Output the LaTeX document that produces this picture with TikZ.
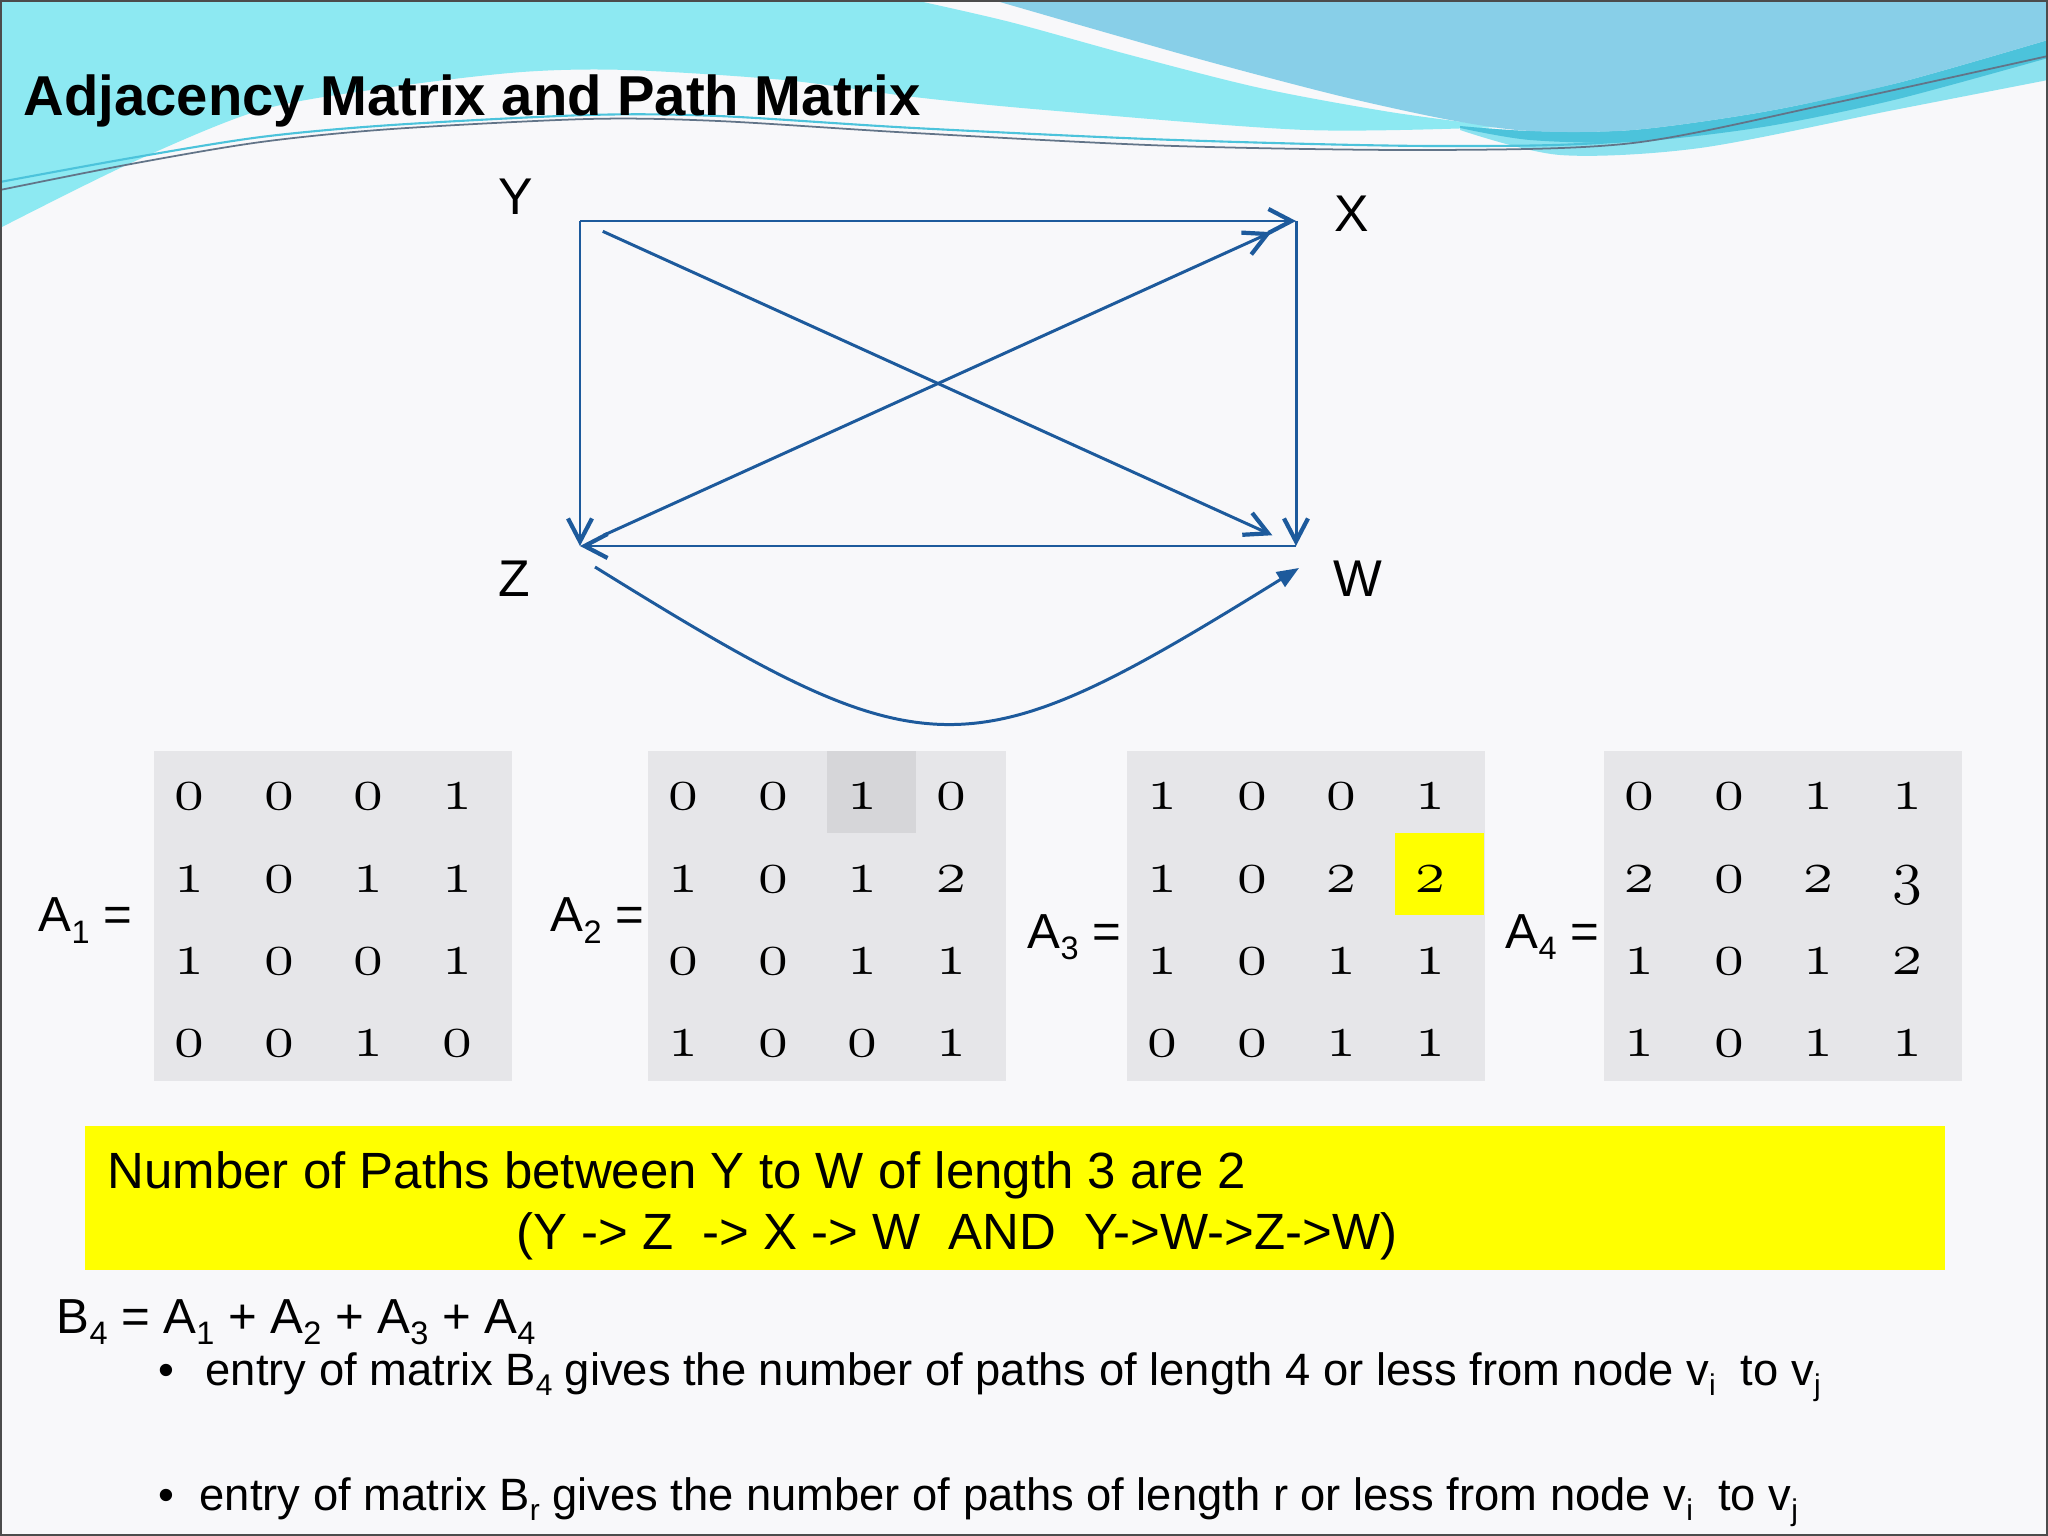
\documentclass[tikz,border=0pt]{standalone}
\usepackage{fontspec}
\setmainfont{Liberation Sans}
\usepackage{graphicx}
\usetikzlibrary{arrows.meta}

\definecolor{bgcol}{HTML}{F8F8FA}
\definecolor{aqua}{HTML}{8DE9F2}
\definecolor{sky}{HTML}{88CFE8}
\definecolor{bandteal}{HTML}{4CC3DB}
\definecolor{edgeblue}{HTML}{1D5A9C}
\definecolor{boxgray}{HTML}{E6E6E9}
\definecolor{cellgray}{HTML}{D6D6D9}
\definecolor{hiyellow}{HTML}{FFFF00}

% lowered small index, as on the slide
\newcommand{\sbx}[1]{\raisebox{-0.24em}{\scalebox{0.66}{#1}}}

\tikzset{
  edge/.style={draw=edgeblue, line width=0.85pt, -{Straight Barb[length=2.3mm, width=2.4mm, line width=1.2pt]}},
  curvedge/.style={draw=edgeblue, line width=0.85pt, -{Triangle[length=2.2mm, width=1.7mm]}},
  vlabel/.style={inner sep=0pt, anchor=base, font=\fontsize{14.7}{17}\selectfont},
  mlabel/.style={inner sep=0pt, anchor=base west, font=\fontsize{14}{17}\selectfont},
  digit/.style={inner sep=0pt, anchor=base west, font=\fontsize{16}{18}\usefont{OML}{lmm}{b}{it}},
  bodytext/.style={inner sep=0pt, anchor=base west, font=\fontsize{14.5}{17}\selectfont},
  bullettext/.style={inner sep=0pt, anchor=base west, font=\fontsize{12.9}{15}\selectfont},
}

\begin{document}
\begin{tikzpicture}
    % Page and banner
    \fill[bgcol] (0,0) rectangle (20.48,-15.36);
    \useasboundingbox (0,0) rectangle (20.48,-15.36);
    \fill[aqua] (0,0) -- plot[smooth] coordinates {(9.14,0) (10.1,-0.22) (11.3,-0.55) (12.6,-0.88) (13.9,-1.12) (15.02,-1.27)}
        -- plot[smooth] coordinates {(15.02,-1.27) (13.06,-1.30) (10.45,-1.10) (9.14,-0.97) (7.84,-0.80) (6.27,-0.70) (5.22,-0.72) (3.92,-0.87) (2.61,-1.10) (1.31,-1.63) (0,-2.28)} -- cycle;
    \fill[aqua!75!sky] plot[smooth] coordinates {(14.6,-1.26) (15.3,-1.31) (16.33,-1.30) (17.63,-1.12) (18.94,-0.84) (20.48,-0.40)}
        -- (20.48,-0.80) -- plot[smooth] coordinates {(20.48,-0.80) (18.94,-1.10) (17.0,-1.48) (15.6,-1.55) (14.6,-1.30)} -- cycle;
    \fill[bandteal] plot[smooth] coordinates {(14.6,-1.26) (15.3,-1.31) (16.33,-1.30) (17.63,-1.12) (18.94,-0.84) (20.48,-0.40)}
        -- (20.48,-0.58) -- plot[smooth] coordinates {(20.48,-0.58) (18.94,-1.00) (17.63,-1.27) (16.33,-1.42) (15.3,-1.40) (14.6,-1.28)} -- cycle;
    \fill[sky] (9.93,0) -- plot[smooth] coordinates {(9.93,0) (10.9,-0.28) (12.1,-0.62) (13.4,-0.96) (14.5,-1.2) (15.3,-1.31) (16.33,-1.30) (17.63,-1.12) (18.94,-0.84) (20.48,-0.40)} -- (20.48,0) -- cycle;
    \draw[bandteal, line width=0.6pt] plot[smooth] coordinates {(0,-1.82) (1.31,-1.58) (2.61,-1.37) (3.92,-1.25) (5.88,-1.15) (7.18,-1.16) (9.14,-1.28) (11.75,-1.40) (14.37,-1.46) (16.33,-1.40) (18.29,-1.00) (20.48,-0.50)};
    \draw[gray!70!edgeblue, line width=0.5pt] plot[smooth] coordinates {(0,-1.90) (1.31,-1.64) (2.61,-1.42) (3.92,-1.29) (5.88,-1.19) (7.18,-1.21) (9.14,-1.33) (11.75,-1.46) (14.37,-1.50) (16.33,-1.43) (18.29,-1.04) (20.48,-0.56)};
    \node[inner sep=0pt, anchor=base west, font=\fontsize{16}{19}\selectfont\bfseries] (title) at (0.23,-1.16) {Adjacency Matrix and Path Matrix};

    % Graph corners and labels
    \coordinate (cY) at (5.80,-2.21);
    \coordinate (cX) at (12.96,-2.21);
    \coordinate (cZ) at (5.80,-5.46);
    \coordinate (cW) at (12.96,-5.46);
    \coordinate (zw1) at (5.95,-5.67);
    \coordinate (zw2) at (12.99,-5.68);
    \node[vlabel] (Y) at (5.16,-2.15) {Y};
    \node[vlabel] (X) at (13.52,-2.32) {X};
    \node[vlabel] (Z) at (5.14,-5.97) {Z};
    \node[vlabel] (W) at (13.58,-5.97) {W};

    % Edges
    \draw[edge] (cY) -- (cX);
    \draw[edge] (cY) -- (cZ);
    \draw[edge] (cX) -- (cW);
    \draw[edge] (cW) -- (cZ);
    \draw[edge, shorten <=0.25cm, shorten >=0.26cm] (cY) -- (cW);
    \draw[edge, shorten <=0.26cm, shorten >=0.27cm] (cZ) -- (cX);
    \draw[curvedge] (zw1) .. controls (9.3,-7.75) and (9.65,-7.75) .. (zw2);

    % Matrices
    \foreach \xl in {1.54, 6.48, 11.27, 16.04}
        \fill[boxgray] (\xl,-7.51) rectangle ++(3.575,-3.30);
    \fill[cellgray] (8.27,-7.51) rectangle (9.16,-8.33);
    \fill[hiyellow] (13.95,-8.33) rectangle (14.84,-9.15);

    \node[mlabel] (A1) at (0.38,-9.32) {A\sbx{1} =};
    \node[mlabel] (A2) at (5.50,-9.32) {A\sbx{2} =};
    \node[mlabel] (A3) at (10.27,-9.48) {A\sbx{3} =};
    \node[mlabel] (A4) at (15.05,-9.48) {A\sbx{4} =};

    \foreach \row [count=\i] in {{0,0,0,1},{1,0,1,1},{1,0,0,1},{0,0,1,0}}
        \foreach \v [count=\j] in \row
            \node[digit] (a1-\i-\j) at ({1.74+(\j-1)*0.893}, {-8.10-(\i-1)*0.823}) {\v};
    \foreach \row [count=\i] in {{0,0,1,0},{1,0,1,2},{0,0,1,1},{1,0,0,1}}
        \foreach \v [count=\j] in \row
            \node[digit] (a2-\i-\j) at ({6.68+(\j-1)*0.893}, {-8.10-(\i-1)*0.823}) {\v};
    \foreach \row [count=\i] in {{1,0,0,1},{1,0,2,2},{1,0,1,1},{0,0,1,1}}
        \foreach \v [count=\j] in \row
            \node[digit] (a3-\i-\j) at ({11.47+(\j-1)*0.893}, {-8.10-(\i-1)*0.823}) {\v};
    \foreach \row [count=\i] in {{0,0,1,1},{2,0,2,3},{1,0,1,2},{1,0,1,1}}
        \foreach \v [count=\j] in \row
            \node[digit] (a4-\i-\j) at ({16.24+(\j-1)*0.893}, {-8.10-(\i-1)*0.823}) {\v};

    % Note and sums
    \fill[hiyellow] (0.85,-11.26) rectangle (19.45,-12.70);
    \node[bodytext] (note1) at (1.07,-11.88) {Number of Paths between Y to W of length 3 are 2};
    \node[bodytext] (note2) at (5.16,-12.49) {(Y -> Z\ \ -> X -> W\ \ AND\ \ Y->W->Z->W)};
    \node[mlabel] (sum) at (0.56,-13.33) {B\sbx{4} = A\sbx{1} + A\sbx{2} + A\sbx{3} + A\sbx{4}};
    \node[bullettext] (dot1) at (1.58,-13.85) {\textbullet};
    \node[bullettext] (line1) at (2.05,-13.85) {entry of matrix B\sbx{4} gives the number of paths of length 4 or less from node v\sbx{i}\ \ to v\sbx{j}};
    \node[bullettext] (dot2) at (1.58,-15.10) {\textbullet};
    \node[bullettext] (line2) at (1.99,-15.10) {entry of matrix B\sbx{r} gives the number of paths of length r or less from node v\sbx{i}\ \ to v\sbx{j}};

    \draw[gray!60!black, line width=0.6pt] (0.01,-0.01) rectangle (20.47,-15.35);
\end{tikzpicture}
\end{document}
